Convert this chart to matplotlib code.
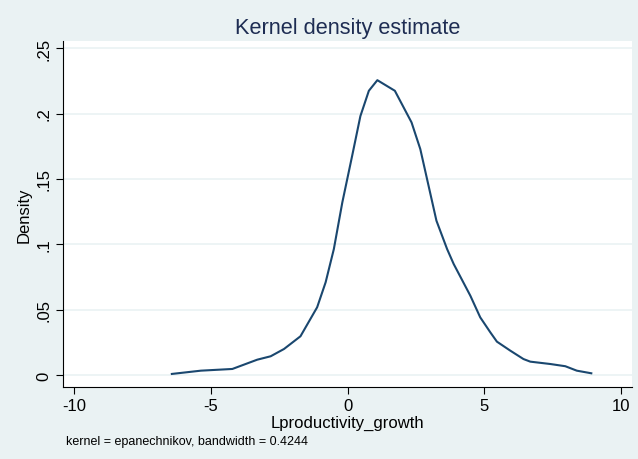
import numpy as np
import matplotlib
matplotlib.use("Agg")
import matplotlib.pyplot as plt

# density curve
growth = [-6.42, -5.36, -4.21, -3.30, -2.81, -2.32, -1.72, -1.11, -0.80, -0.50,
          -0.19, 0.17, 0.47, 0.78, 1.09, 1.73, 2.34, 2.66, 3.25, 3.64, 3.88,
          4.49, 4.85, 5.22, 5.46, 5.95, 6.43, 6.68, 7.41, 7.96, 8.38, 8.91]
density = [0.0008, 0.0033, 0.0046, 0.0117, 0.0143, 0.0199, 0.0296, 0.0518, 0.0709, 0.0963,
           0.132, 0.1677, 0.198, 0.2174, 0.2255, 0.2174, 0.1932, 0.1728, 0.118, 0.0963, 0.0849,
           0.0606, 0.0441, 0.0326, 0.0255, 0.0186, 0.0122, 0.0102, 0.0084, 0.0067, 0.0033, 0.0013]

xticks = [-10, -5, 0, 5, 10]
yticks = [0, 0.05, 0.1, 0.15, 0.2, 0.25]
ylabels = ["0", ".05", ".1", ".15", ".2", ".25"]

bg = "#eaf2f3"
navy = "#1a476f"

plt.rcParams['font.family'] = ['Liberation Sans', 'DejaVu Sans']

fig = plt.figure(figsize=(6.38, 4.6), dpi=100, facecolor=bg)
ax = fig.add_axes([0.0987, 0.1565, 0.892, 0.752])
ax.set_facecolor("white")

ax.plot(growth, density, color=navy, lw=1.5)

ax.set_xlim(-10.4, 10.4)
ax.set_ylim(-0.0092, 0.2554)
ax.set_xticks(xticks)
ax.set_xticklabels([str(t) for t in xticks], fontsize=12)
ax.set_yticks(yticks)
ax.set_yticklabels(ylabels, fontsize=12, rotation=90, va="center")
ax.yaxis.grid(True, color=bg, lw=1.2)
ax.set_axisbelow(True)
ax.tick_params(direction="out", length=5, width=0.8, color="black", pad=3)

for s in ["top", "right"]:
    ax.spines[s].set_visible(False)
for s in ["left", "bottom"]:
    ax.spines[s].set_color("black")
    ax.spines[s].set_linewidth(0.8)

ax.set_xlabel("Lproductivity_growth", fontsize=12, labelpad=1)
ax.set_ylabel("Density", fontsize=12, labelpad=4)
ax.set_title("Kernel density estimate", fontsize=15.7, color="#1e2d53", pad=6)

fig.text(0.103, 0.032, "kernel = epanechnikov, bandwidth = 0.4244", fontsize=9)

fig.savefig("out.png", dpi=100, facecolor=bg)
